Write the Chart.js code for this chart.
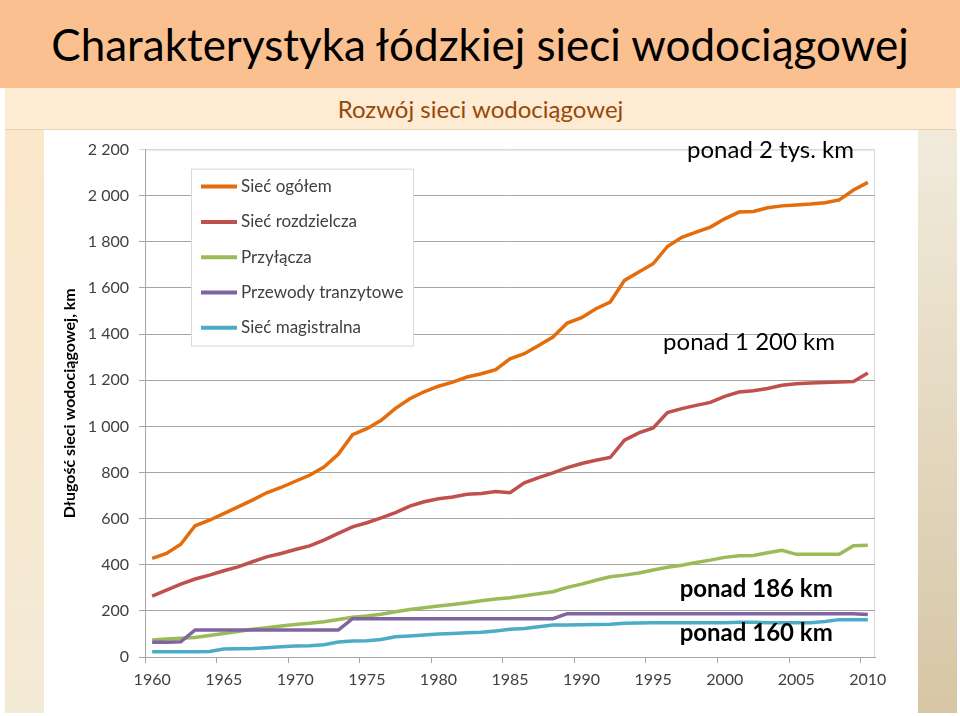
<!DOCTYPE html>
<html lang="pl">
<head>
<meta charset="utf-8">
<script src="https://cdn.jsdelivr.net/npm/chart.js@4/dist/chart.umd.min.js"></script>
<style>
  body { margin: 0; width: 960px; height: 716px; background: #fff; position: relative; overflow: hidden; font-family: Lato, "Open Sans", sans-serif; }
  .header { position: absolute; left: 0; top: 0; width: 960px; height: 88px; background: #FAC090; }
  .header h1 { margin: 0; font-weight: normal; font-size: 44px; line-height: 88px; text-align: center; color: #000; }
  .sub { position: absolute; left: 5px; top: 88px; width: 951px; height: 41px; background: #FDEBD4; border-bottom: 1px solid #E9D3B6; }
  .sub div { font-size: 24px; line-height: 42px; text-align: center; color: #984807; }
  .left { position: absolute; left: 5px; top: 130px; width: 39px; height: 583px; background: linear-gradient(#FBE7CA, #F3EAD6); }
  .right { position: absolute; left: 918px; top: 130px; width: 39px; height: 583px; background: linear-gradient(#F2EBDC, #D6C6A5); }
  .chart-box { position: absolute; left: 44px; top: 130px; width: 874px; height: 583px; }
</style>
</head>
<body>
<div class="header"><h1>Charakterystyka łódzkiej sieci wodociągowej</h1></div>
<div class="sub"><div>Rozwój sieci wodociągowej</div></div>
<div class="left"></div>
<div class="right"></div>
<div class="chart-box"><canvas id="chart"></canvas></div>
<script>
var years = [];
for (var y = 1960; y <= 2010; y++) years.push(String(y));

var siecOgolem = [428, 449, 489, 569, 593, 622, 651, 680, 712, 735,
  762, 788, 824, 879, 964, 990, 1026, 1078, 1120, 1150,
  1174, 1192, 1214, 1228, 1246, 1293, 1315, 1351, 1387, 1448,
  1471, 1510, 1539, 1633, 1669, 1705, 1780, 1820, 1842, 1864,
  1900, 1929, 1932, 1948, 1956, 1960, 1964, 1970, 1982, 2025, 2058];

var siecRozdzielcza = [264, 290, 316, 338, 355, 374, 391, 413, 434, 449,
  466, 482, 507, 536, 564, 582, 603, 626, 654, 673,
  686, 694, 706, 709, 718, 712, 755, 778, 798, 821,
  839, 853, 865, 940, 972, 993, 1060, 1077, 1091, 1104,
  1130, 1149, 1154, 1164, 1178, 1185, 1188, 1190, 1192, 1194, 1231];

var przylacza = [74, 78, 81, 85, 93, 102, 110, 120, 127, 134,
  141, 146, 153, 163, 172, 178, 185, 196, 206, 214,
  221, 228, 235, 244, 251, 257, 266, 274, 283, 302,
  316, 333, 348, 355, 364, 377, 389, 398, 410, 420,
  432, 439, 440, 452, 463, 445, 445, 445, 445, 482, 485];

var przewodyTranzytowe = [64, 64, 66, 117, 117, 117, 117, 117, 117, 117,
  117, 117, 117, 117, 166, 166, 166, 166, 166, 166,
  166, 166, 166, 166, 166, 166, 166, 166, 166, 188,
  188, 188, 188, 188, 188, 188, 188, 188, 188, 188,
  188, 188, 188, 188, 188, 188, 188, 188, 188, 188, 184];

var siecMagistralna = [23, 23, 23, 23, 24, 35, 36, 37, 40, 44,
  48, 49, 53, 65, 69, 70, 76, 88, 91, 95,
  100, 102, 105, 107, 113, 120, 124, 131, 139, 139,
  140, 141, 142, 146, 147, 148, 148, 148, 148, 148,
  149, 151, 151, 149, 149, 149, 149, 154, 162, 162, 162];

var seriesNames = ['Sieć ogółem', 'Sieć rozdzielcza', 'Przyłącza', 'Przewody tranzytowe', 'Sieć magistralna'];
var seriesColors = ['#E46C0A', '#C0504D', '#9BBB59', '#8064A2', '#4BACC6'];
var seriesData = [siecOgolem, siecRozdzielcza, przylacza, przewodyTranzytowe, siecMagistralna];

// notes: text, year index, value, bold
var notes = [
  ['ponad 2 tys. km', 43.2, 2196, false],
  ['ponad 1 200 km', 41.7, 1364, false],
  ['ponad 186 km', 42.2, 294, true],
  ['ponad 160 km', 42.2, 104, true]
];

var FONT = 'Lato, "Open Sans", sans-serif';

var boxPlugin = {
  id: 'box',
  beforeDraw: function(chart) {
    var a = chart.chartArea, c = chart.ctx;
    c.save();
    c.strokeStyle = '#D9D9D9';
    c.lineWidth = 1;
    c.strokeRect(a.left + 0.5, a.top + 0.5, a.right - a.left - 1, a.bottom - a.top);
    c.restore();
  },
  afterDraw: function(chart) {
    var a = chart.chartArea, c = chart.ctx;
    var xs = chart.scales.x, ys = chart.scales.y;
    c.save();
    // legend
    var lx = a.left + 46, ly = a.top + 19;
    c.fillStyle = '#fff';
    c.fillRect(lx, ly, 222, 177);
    c.strokeStyle = '#D9D9D9';
    c.lineWidth = 1;
    c.strokeRect(lx + 0.5, ly + 0.5, 222, 177);
    c.font = '17px ' + FONT;
    c.textBaseline = 'middle';
    c.textAlign = 'left';
    seriesNames.forEach(function(name, i) {
      var yy = ly + 18 + i * 35.3;
      c.strokeStyle = seriesColors[i];
      c.lineWidth = 4;
      c.beginPath();
      c.moveTo(lx + 10, yy);
      c.lineTo(lx + 46, yy);
      c.stroke();
      c.fillStyle = '#404040';
      c.fillText(name, lx + 50, yy);
    });
    // notes
    c.fillStyle = '#000';
    c.textAlign = 'center';
    notes.forEach(function(n) {
      c.font = (n[3] ? 'bold ' : '') + '24px ' + FONT;
      c.fillText(n[0], xs.getPixelForValue(n[1]), ys.getPixelForValue(n[2]));
    });
    c.restore();
  }
};

var datasets = seriesData.map(function(d, i) {
  return {
    label: seriesNames[i],
    data: d,
    borderColor: seriesColors[i],
    backgroundColor: seriesColors[i],
    borderWidth: 3.5,
    pointRadius: 0,
    tension: 0,
    fill: false,
    order: 5 - i
  };
});

new Chart(document.getElementById('chart').getContext('2d'), {
  type: 'line',
  data: { labels: years, datasets: datasets },
  plugins: [boxPlugin],
  options: {
    responsive: true,
    maintainAspectRatio: false,
    animation: false,
    layout: { padding: { top: 19, right: 43, left: 0, bottom: 0 } },
    plugins: { legend: { display: false }, tooltip: { enabled: false } },
    scales: {
      x: {
        offset: true,
        afterFit: function(s) { s.height = 56; },
        grid: {
          offset: true,
          drawOnChartArea: false,
          tickLength: 6,
          color: function(ctx) { return ctx.index % 5 === 0 ? '#A6A6A6' : 'rgba(0,0,0,0)'; }
        },
        border: { color: '#A6A6A6' },
        ticks: {
          autoSkip: false,
          maxRotation: 0,
          padding: 7,
          color: '#404040',
          font: { family: FONT, size: 16 },
          callback: function(v, i) { return i % 5 === 0 ? years[i] : ''; }
        }
      },
      y: {
        min: 0,
        max: 2200,
        afterFit: function(s) { s.width = 101; },
        grid: {
          tickLength: 6,
          color: function(ctx) { return ctx.tick && ctx.tick.value === 2200 ? '#D9D9D9' : '#A6A6A6'; }
        },
        border: { color: '#A6A6A6' },
        ticks: {
          stepSize: 200,
          padding: 10,
          color: '#404040',
          font: { family: FONT, size: 16 },
          callback: function(v) { return String(v).replace(/\B(?=(\d{3})+(?!\d))/g, ' '); }
        },
        title: {
          display: true,
          text: 'Długość sieci wodociągowej, km',
          color: '#000',
          font: { family: FONT, size: 16, weight: 'bold' },
          padding: { top: 16, bottom: 0 }
        }
      }
    }
  }
});
</script>
</body>
</html>
